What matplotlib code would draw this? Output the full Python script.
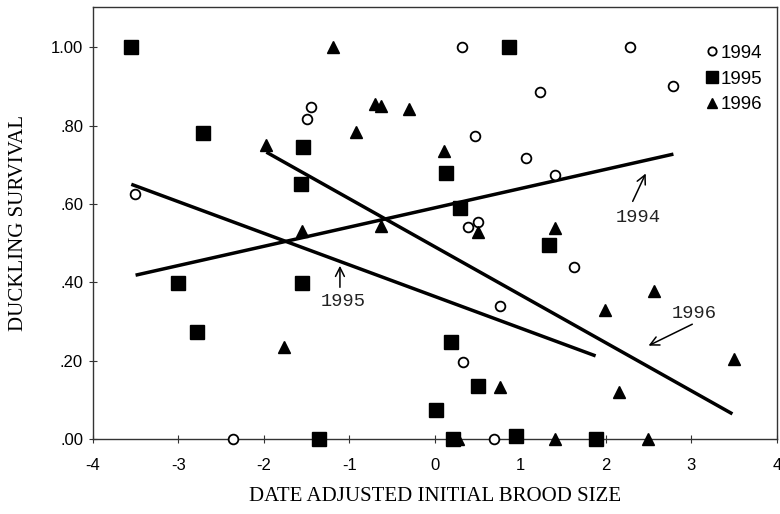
#!/usr/bin/env python3
"""Duckling survival vs date adjusted initial brood size, 1994-1996."""

import matplotlib
matplotlib.use("Agg")
import matplotlib.pyplot as plt

# 1994: open circles
x_1994 = [0.32, 2.28, 2.79, 1.23, -1.45, -1.49, 0.47, 1.07, 1.41, -3.51,
          0.50, 0.39, 1.63, 0.76, 0.33, -2.36, 0.69]
y_1994 = [1.00, 1.00, 0.90, 0.885, 0.847, 0.816, 0.773, 0.717, 0.673, 0.625,
          0.554, 0.54, 0.44, 0.34, 0.196, 0.0, 0.0]

# 1995: filled squares
x_1995 = [-3.55, 0.87, -2.71, -1.54, -1.57, 0.13, 0.29, 1.34, -3.00, -1.55,
          -2.78, 0.19, 0.50, 0.01, -1.35, 0.21, 0.95, 1.89]
y_1995 = [1.00, 1.00, 0.78, 0.745, 0.65, 0.68, 0.589, 0.495, 0.398, 0.398,
          0.273, 0.248, 0.135, 0.074, 0.0, 0.0, 0.008, 0.0]

# 1996: filled triangles
x_1996 = [-1.19, -0.70, -0.63, -0.30, -0.92, -1.98, 0.11, 1.40, 0.50, -1.55,
          -0.63, 3.50, 2.56, 1.99, 2.15, 0.76, -1.77, 0.27, 1.40, 2.49]
y_1996 = [1.00, 0.855, 0.85, 0.842, 0.784, 0.75, 0.735, 0.538, 0.529, 0.531,
          0.543, 0.204, 0.378, 0.329, 0.12, 0.132, 0.235, 0.0, 0.0, 0.0]

# fitted lines (end points)
fit_x_1994 = [-3.50, 2.79]
fit_y_1994 = [0.418, 0.727]
fit_x_1995 = [-3.55, 1.88]
fit_y_1995 = [0.65, 0.212]
fit_x_1996 = [-1.97, 3.48]
fit_y_1996 = [0.732, 0.064]

xticks = [-4, -3, -2, -1, 0, 1, 2, 3, 4]
yticks = [0.0, 0.2, 0.4, 0.6, 0.8, 1.0]
ytick_labels = [".00", ".20", ".40", ".60", ".80", "1.00"]


def main():
    fig = plt.figure(figsize=(7.8, 5.14), dpi=100)
    ax = fig.add_axes([0.119, 0.146, 0.877, 0.840])

    ax.plot(x_1994, y_1994, "o", ms=7, mfc="white", mec="black", mew=1.3,
            ls="none", clip_on=False, label="1994", zorder=4)
    ax.plot(x_1995, y_1995, "s", ms=9.5, color="black", ls="none",
            clip_on=False, label="1995", zorder=4)
    ax.plot(x_1996, y_1996, "^", ms=8, color="black", ls="none",
            clip_on=False, label="1996", zorder=4)

    for fx, fy in [(fit_x_1994, fit_y_1994), (fit_x_1995, fit_y_1995),
                   (fit_x_1996, fit_y_1996)]:
        ax.plot(fx, fy, color="black", lw=2.5, solid_capstyle="butt", zorder=3)

    # line labels with arrows
    mono = dict(family="Liberation Mono", fontsize=13.5, color="#222222")
    arrow = dict(arrowstyle="->", color="black", lw=1.1, mutation_scale=16)
    ax.annotate("", xy=(2.48, 0.684), xytext=(2.30, 0.60), arrowprops=arrow)
    ax.text(2.38, 0.564, "1994", ha="center", va="center", **mono)
    ax.annotate("", xy=(-1.11, 0.449), xytext=(-1.11, 0.38), arrowprops=arrow)
    ax.text(-1.07, 0.35, "1995", ha="center", va="center", **mono)
    ax.annotate("", xy=(2.47, 0.235), xytext=(3.04, 0.296), arrowprops=arrow)
    ax.text(3.03, 0.32, "1996", ha="center", va="center", **mono)

    ax.set_xlim(-4, 4)
    ax.set_ylim(0, 1.102)
    ax.set_xticks(xticks)
    ax.set_xticklabels([str(t) for t in xticks])
    ax.set_yticks(yticks)
    ax.set_yticklabels(ytick_labels)
    ax.tick_params(axis="both", direction="inout", length=6, width=0.8,
                   labelsize=12, colors="#333333", labelcolor="black")
    ax.tick_params(axis="x", pad=11)
    ax.tick_params(axis="y", pad=4)
    for lbl in ax.get_xticklabels() + ax.get_yticklabels():
        lbl.set_family("Liberation Sans")
    for sp in ax.spines.values():
        sp.set_linewidth(1.0)
        sp.set_color("#333333")

    ax.set_xlabel("DATE ADJUSTED INITIAL BROOD SIZE", family="Liberation Serif",
                  fontsize=15, labelpad=10)
    ax.set_ylabel("DUCKLING SURVIVAL", family="Liberation Serif", fontsize=15)
    ax.yaxis.set_label_coords(-0.095, 0.5)

    leg = ax.legend(loc="upper right", bbox_to_anchor=(0.99, 0.93), frameon=False,
                    handlelength=0.6, handletextpad=0.2, labelspacing=0.45,
                    prop=dict(family="Liberation Sans", size=13.5), borderaxespad=0)
    leg.legend_handles[0].set_markersize(6)
    leg.legend_handles[1].set_markersize(9)
    leg.legend_handles[2].set_markersize(7.5)

    fig.savefig("out.png", dpi=100)
    plt.close(fig)


if __name__ == "__main__":
    main()
